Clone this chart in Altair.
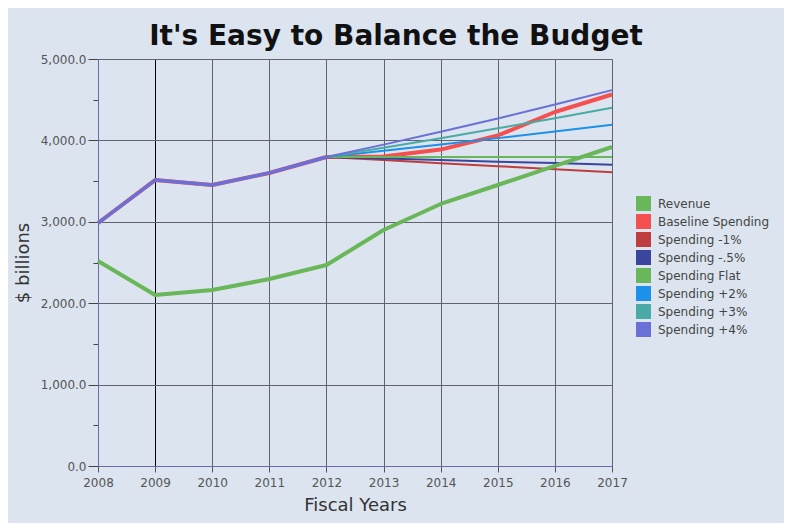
import altair as alt
import pandas as pd

years = [2008, 2009, 2010, 2011, 2012, 2013, 2014, 2015, 2016, 2017]
history = [2985, 3513, 3452, 3600, 3796]  # spending 2008-2012, shared by all spending series
revenue = [2518, 2100, 2162, 2297, 2469, 2899, 3219, 3452, 3686, 3919]
baseline = [3803, 3887, 4060, 4349, 4564]
minus1 = [3758, 3720, 3683, 3646, 3610]
minus05 = [3777, 3758, 3739, 3721, 3702]
flat = [3796, 3796, 3796, 3796, 3796]
plus2 = [3872, 3949, 4028, 4109, 4191]
plus3 = [3910, 4027, 4148, 4272, 4401]
plus4 = [3948, 4106, 4270, 4441, 4618]

series_names = ["Revenue", "Baseline Spending", "Spending -1%", "Spending -.5%",
                "Spending Flat", "Spending +2%", "Spending +3%", "Spending +4%"]
series_colors = ["#6ab759", "#f4504f", "#c03d3f", "#3a459e",
                 "#6ab759", "#1d91ea", "#4aaaa6", "#6a70d6"]

rows = []
for y, v in zip(years, revenue):
    rows.append({"year": y, "value": v, "series": "Revenue"})
for name, proj in zip(series_names[1:], [baseline, minus1, minus05, flat, plus2, plus3, plus4]):
    for y, v in zip(years, history + proj):
        rows.append({"year": y, "value": v, "series": name})
df = pd.DataFrame(rows)

FONT = "DejaVu Sans"

x_enc = alt.X("year:Q",
              scale=alt.Scale(domain=[2008, 2017], nice=False, zero=False),
              axis=alt.Axis(values=years, format="d", title="Fiscal Years",
                            labelFont=FONT, labelFontSize=12, labelColor="#555",
                            labelFlush=False,
                            titleFont=FONT, titleFontSize=18, titleFontWeight="normal",
                            titleColor="#333", titlePadding=8,
                            tickSize=6, tickColor="#555", labelPadding=5,
                            domainColor="#6a6ab0", domainWidth=1,
                            grid=True,
                            gridColor={"condition": {"test": "datum.value == 2009", "value": "#000000"}, "value": "#5f6470"},
                            gridOpacity=1, gridWidth=1))
y_enc = alt.Y("value:Q",
              scale=alt.Scale(domain=[0, 5000], nice=False),
              axis=alt.Axis(values=list(range(0, 5001, 500)), title="$ billions",
                            labelExpr="datum.value % 1000 == 0 ? format(datum.value, ',.1f') : ''",
                            labelFont=FONT, labelFontSize=12, labelColor="#555",
                            titleFont=FONT, titleFontSize=18, titleFontWeight="normal",
                            titleColor="#333", titlePadding=8,
                            tickColor="#444",
                            tickSize={"condition": {"test": "datum.value % 1000 == 0", "value": 10}, "value": 5},
                            labelPadding=2,
                            domainColor="#6a6ab0", domainWidth=1,
                            grid=True, gridColor="#5f6470", gridWidth=1,
                            gridOpacity={"condition": {"test": "datum.value % 1000 == 0", "value": 1}, "value": 0}))
color_scale = alt.Scale(domain=series_names, range=series_colors)
legend = alt.Legend(title=None, orient="none", legendX=538, legendY=137,
                    symbolType="square", symbolSize=225,
                    symbolStrokeWidth=0, symbolOpacity=1,
                    labelFont=FONT, labelFontSize=12, labelColor="#444",
                    rowPadding=3, labelOffset=7)

draw_order = ["Baseline Spending", "Spending -1%", "Spending -.5%", "Spending Flat",
              "Spending +2%", "Spending +3%", "Spending +4%", "Revenue"]

# invisible square layer that only provides the filled-square legend
legend_layer = alt.Chart(df).mark_square(opacity=0, size=1).encode(
    x=x_enc, y=y_enc,
    color=alt.Color("series:N", scale=color_scale, legend=legend),
)

layers = [legend_layer]
for name in draw_order:
    w = 4 if name in ("Revenue", "Baseline Spending") else 2
    layers.append(
        alt.Chart(df).transform_filter(alt.datum.series == name)
        .mark_line(strokeJoin="round", strokeWidth=w)
        .encode(x=x_enc, y=y_enc,
                color=alt.Color("series:N", scale=color_scale, legend=None))
    )

# shared history segment: the topmost (+4%) series covers the others there
layers.append(
    alt.Chart(df).transform_filter(
        (alt.datum.series == "Spending +4%") & (alt.datum.year <= 2012)
    ).mark_line(strokeJoin="round", strokeWidth=3.4)
    .encode(x=x_enc, y=y_enc,
            color=alt.Color("series:N", scale=color_scale, legend=None))
)

chart = alt.layer(*layers).properties(
    width=514, height=407,
    autosize=alt.AutoSizeParams(type="none"),
    padding={"left": 90, "top": 51, "right": 172, "bottom": 57},
    background="#dce4ef",
    title=alt.TitleParams("It's Easy to Balance the Budget", font=FONT, fontSize=28,
                          fontWeight="bold", color="#111", anchor="middle", dx=41, offset=2),
).configure_view(stroke=None)

chart.save("out.html", embed_options={"renderer": "svg", "actions": False})
